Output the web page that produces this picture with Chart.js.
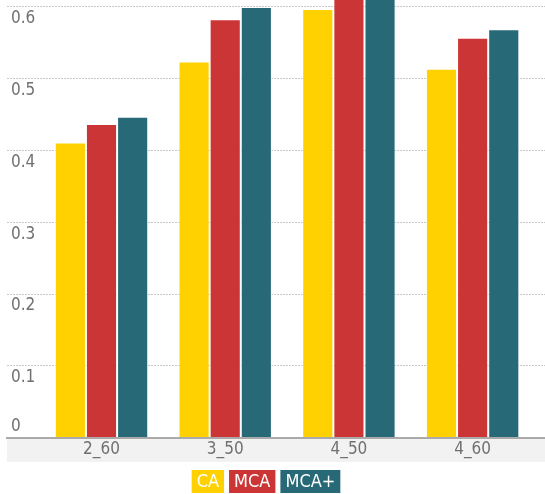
<!DOCTYPE html>
<html>
<head>
<meta charset="utf-8">
<script src="https://cdn.jsdelivr.net/npm/chart.js@4.4.0/dist/chart.umd.min.js"></script>
<style>
  html, body { margin: 0; padding: 0; background: #fff; }
  #wrap { width: 545px; height: 494px; }
</style>
</head>
<body>
<div id="wrap"><canvas id="chart"></canvas></div>
<script>
const categories = ["2_60", "3_50", "4_50", "4_60"];
const seriesNames = ["CA", "MCA", "MCA+"];
const caValues = [0.411, 0.524, 0.597, 0.514];
const mcaValues = [0.437, 0.583, 0.625, 0.557];
const mcaPlusValues = [0.447, 0.600, 0.635, 0.569];
const yTicks = [0, 0.1, 0.2, 0.3, 0.4, 0.5, 0.6];

const colors = ["#ffd100", "#cc3535", "#276977"];
const font = "'Liberation Sans Narrow', 'DejaVu Sans Condensed', sans-serif";

// gray band behind the category labels
const bandPlugin = {
  id: "band",
  beforeDraw(chart) {
    const x = chart.scales.x;
    const ctx = chart.ctx;
    ctx.save();
    ctx.fillStyle = "#f2f2f2";
    ctx.fillRect(x.left, x.top, x.right - x.left, x.bottom - x.top);
    ctx.restore();
  },
};

// y labels sit under their grid line (0 sits above the axis)
const yLabelPlugin = {
  id: "ylabels",
  afterDraw(chart) {
    const y = chart.scales.y;
    const ctx = chart.ctx;
    ctx.save();
    ctx.font = "17px " + font;
    ctx.fillStyle = "#707070";
    ctx.textAlign = "left";
    ctx.textBaseline = "middle";
    yTicks.forEach((v) => {
      const py = y.getPixelForValue(v);
      ctx.fillText(String(v), chart.chartArea.left + 4, v === 0 ? py - 11 : py + 12);
    });
    ctx.restore();
  },
};

// legend: coloured boxes with the name inside
const boxLegendPlugin = {
  id: "boxlegend",
  afterDraw(chart) {
    const ctx = chart.ctx;
    ctx.save();
    ctx.font = "18px " + font;
    const pad = 5, gap = 5, h = 23, top = 470;
    const widths = seriesNames.map((n) => ctx.measureText(n).width + pad * 2);
    const total = widths.reduce((a, b) => a + b, 0) + gap * (widths.length - 1);
    let x = 266 - total / 2;
    seriesNames.forEach((n, i) => {
      ctx.fillStyle = colors[i];
      ctx.fillRect(x, top, widths[i], h);
      ctx.fillStyle = "#fff";
      ctx.textAlign = "center";
      ctx.textBaseline = "middle";
      ctx.fillText(n, x + widths[i] / 2, top + h / 2 + 1);
      x += widths[i] + gap;
    });
    ctx.restore();
  },
};

const makeSet = (label, data, i) => ({
  label,
  data,
  backgroundColor: colors[i],
  borderColor: "rgba(255,255,255,0.6)",
  borderWidth: 1,
  barPercentage: 1,
  categoryPercentage: 0.755,
});

new Chart(document.getElementById("chart"), {
  type: "bar",
  data: {
    labels: categories,
    datasets: [
      makeSet(seriesNames[0], caValues, 0),
      makeSet(seriesNames[1], mcaValues, 1),
      makeSet(seriesNames[2], mcaPlusValues, 2),
    ],
  },
  options: {
    responsive: true,
    maintainAspectRatio: false,
    animation: false,
    layout: { padding: { left: 7, right: 0, top: 0, bottom: 32 } },
    plugins: {
      legend: { display: false },
      tooltip: { enabled: false },
    },
    scales: {
      x: {
        grid: { display: false, drawTicks: false },
        border: { display: true, color: "#aaaaaa", width: 2 },
        ticks: { color: "#707070", font: { family: font, size: 17 }, padding: 2 },
        afterBuildTicks: (s) => {
          // leave some room left and right of the groups
          s._startValue = -0.764;
          s._valueRange = 4.349;
        },
      },
      y: {
        min: 0,
        max: 0.6097,
        afterBuildTicks: (s) => {
          s.ticks = yTicks.map((v) => ({ value: v }));
        },
        ticks: { display: false },
        grid: { color: "#c8c8c8", lineWidth: 1, drawTicks: false },
        border: { display: false, dash: [2, 1] },
      },
    },
  },
  plugins: [bandPlugin, yLabelPlugin, boxLegendPlugin],
});
</script>
</body>
</html>
